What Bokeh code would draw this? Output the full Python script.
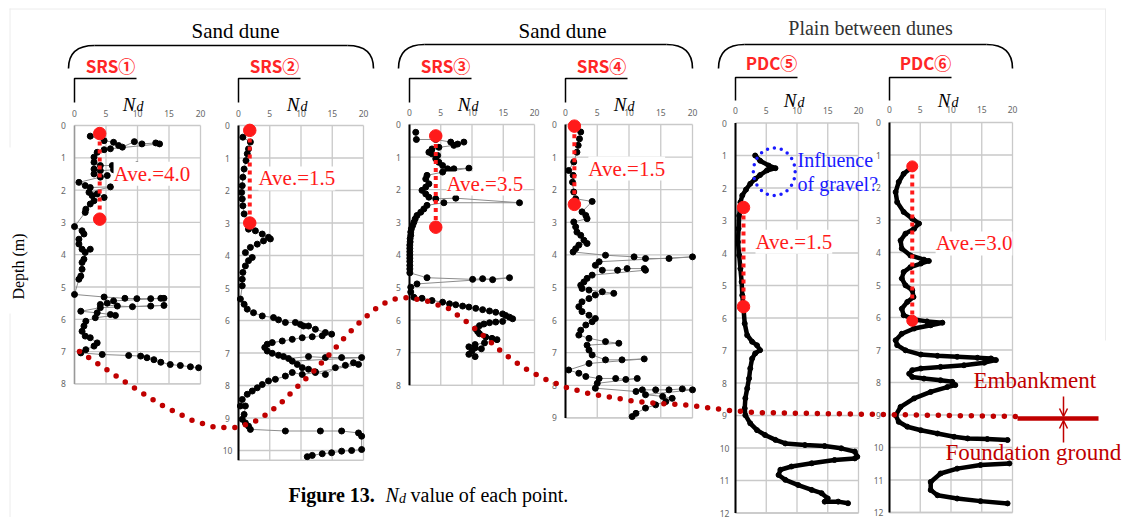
import math
from bokeh.plotting import figure
from bokeh.models import Range1d, Label, Arrow, OpenHead
from bokeh.core.properties import value
from bokeh.embed import file_html
from bokeh.resources import INLINE

# ---------------- data (Nd, depth m) ----------------
panel_names = ["SRS①", "SRS②", "SRS③", "SRS④", "PDC⑤", "PDC⑥"]
depth_tick_max = [8, 10, 8, 9, 12, 12]
nd_ticks = [0, 5, 10, 15, 20]

srs1 = [(2.5,0.33),(4.7,0.47),(6.2,0.52),(7.0,0.62),(7.6,0.67),(9.5,0.50),(10.7,0.57),(12.9,0.54),(13.5,0.57),
        (5.7,0.72),(4.7,0.75),(3.6,0.83),(3.1,0.98),(3.1,1.14),(4.1,1.24),(6.0,1.24),(9.9,1.22),(13.7,1.24),(17.1,1.24),
        (14.7,1.29),(10.5,1.32),(6.2,1.37),(4.1,1.40),(3.1,1.35),(3.1,1.50),(5.2,1.55),(4.1,1.60),(0.7,1.76),(1.7,1.86),
        (2.5,1.92),(5.7,1.90),(2.3,2.07),(2.8,2.17),(3.6,2.12),(4.7,2.23),(3.1,2.33),(2.5,2.43),(1.8,2.59),(1.7,2.69),
        (0.0,3.13),(1.2,3.26),(1.5,3.36),(0.7,3.52),(0.7,3.67),(1.2,3.83),(2.5,3.83),(1.7,3.93),(1.5,4.14),(1.2,4.24),
        (1.2,4.45),(1.0,4.66),(0.7,4.76),(0.0,5.23),(4.7,5.31),(8.0,5.35),(9.9,5.36),(12.1,5.36),(13.7,5.35),(14.2,5.35),
        (6.2,5.43),(5.2,5.50),(4.1,5.54),(6.8,5.59),(9.2,5.61),(12.1,5.59),(14.2,5.57),(4.1,5.64),(1.0,5.75),(3.6,5.80),
        (5.7,5.85),(6.5,5.88),(3.3,5.95),(1.8,6.06),(1.5,6.21),(1.2,6.37),(1.7,6.52),(2.5,6.57),(3.6,6.73),(3.1,6.83),
        (1.8,6.94),(1.0,7.04),(4.4,7.09),(8.6,7.12),(10.5,7.14),(11.5,7.19),(12.6,7.25),(13.7,7.33),(15.2,7.40),
        (16.8,7.43),(18.4,7.47),(19.7,7.50)]

srs2 = [(0.7,0.36),(1.9,0.51),(1.6,0.72),(1.4,0.87),(1.2,1.08),(0.9,1.34),(0.7,1.59),(0.6,1.85),(0.5,2.06),(0.6,2.26),
        (0.7,2.47),(0.9,2.72),(1.6,3.19),(2.7,3.24),(3.8,3.34),(4.8,3.44),(5.1,3.49),(4.0,3.55),(3.0,3.65),(1.9,3.75),
        (1.1,3.91),(2.2,4.06),(1.6,4.16),(1.1,4.32),(0.7,4.52),(0.6,4.73),(0.6,4.93),(0.3,5.34),(0.9,5.50),(1.4,5.65),
        (2.4,5.76),(3.8,5.86),(5.6,5.91),(6.4,5.98),(7.5,6.06),(9.1,6.06),(9.9,6.12),(10.4,6.17),(11.2,6.17),(12.3,6.27),
        (13.9,6.37),(14.9,6.42),(13.4,6.47),(11.8,6.50),(10.2,6.53),(8.6,6.58),(7.0,6.63),(5.4,6.68),(4.6,6.73),(4.2,6.83),
        (4.6,6.94),(5.4,7.01),(6.4,7.07),(7.2,7.11),(8.0,7.17),(11.2,7.11),(13.9,7.14),(16.5,7.14),(19.7,7.14),(8.6,7.25),
        (9.4,7.35),(10.2,7.45),(11.2,7.50),(12.3,7.58),(13.9,7.66),(15.5,7.45),(17.1,7.38),(18.4,7.30),(19.2,7.35),
        (12.3,7.60),(10.2,7.66),(8.6,7.60),(7.5,7.71),(5.9,7.81),(4.8,7.86),(3.8,7.97),(3.0,8.07),(2.2,8.17),(1.4,8.27),
        (0.6,8.43),(0.3,8.63),(1.1,8.63),(0.9,8.89),(0.6,9.04),(1.1,9.15),(1.6,9.25),(1.9,9.35),(7.5,9.40),(13.1,9.40),
        (16.5,9.40),(19.2,9.46),(19.7,9.56),(19.7,9.97),(18.1,10.00),(16.5,10.02),(14.9,10.07),(13.4,10.10),(11.8,10.15),
        (11.0,10.19)]

srs3 = [(1.0,0.24),(1.1,0.46),(4.2,0.46),(6.6,0.54),(7.7,0.60),(8.7,0.54),(7.1,0.64),(4.7,0.70),(3.6,0.75),(3.1,0.85),
        (3.6,0.90),(4.5,0.95),(4.2,1.05),(4.7,1.16),(5.3,1.26),(6.1,1.36),(6.6,1.41),(7.1,1.36),(9.5,1.34),(5.3,1.46),
        (2.8,1.56),(2.6,1.67),(3.1,1.82),(2.6,1.92),(2.0,2.02),(2.6,2.13),(3.1,2.23),(4.2,2.28),(7.4,2.26),(17.6,2.40),
        (5.5,2.40),(2.8,2.48),(2.3,2.59),(1.8,2.69),(1.2,2.79),(0.9,2.90),(0.7,3.00),(0.5,3.10),(0.3,3.20),(0.2,3.30),
        (0.2,3.40),(0.1,3.50),(0.1,3.60),(0.05,3.70),(0.05,3.80),(0.05,3.90),(0.05,4.00),(0.05,4.10),(0.05,4.20),
        (0.05,4.32),(0.05,4.43),(0.05,4.55),(2.8,4.70),(10.1,4.75),(11.7,4.73),(13.3,4.76),(16.0,4.70),(1.2,4.89),
        (0.2,4.99),(0.2,5.14),(0.7,5.30),(2.0,5.33),(3.6,5.40),(5.3,5.45),(6.4,5.50),(7.4,5.53),(8.5,5.57),(9.5,5.60),
        (10.6,5.64),(11.7,5.68),(12.8,5.72),(13.8,5.76),(14.9,5.81),(15.4,5.86),(16.0,5.91),(16.5,5.96),(14.9,6.04),
        (13.8,6.06),(12.8,6.08),(11.9,6.12),(11.2,6.17),(10.6,6.27),(10.9,6.35),(11.2,6.42),(12.2,6.52),(13.2,6.56),
        (14.0,6.60),(12.0,6.70),(10.5,6.75),(9.5,6.82),(10.5,6.85),(11.5,6.88),(10.0,6.95),(9.5,7.05),(10.5,7.12)]

srs4 = [(2.4,0.23),(2.2,0.44),(2.0,0.64),(1.8,0.85),(1.3,1.15),(0.5,1.41),(1.2,1.56),(1.1,1.77),(1.3,2.07),(1.6,2.28),
        (4.2,2.36),(2.6,2.68),(3.2,2.79),(3.4,2.89),(1.3,2.99),(1.6,3.14),(1.8,3.30),(2.4,3.40),(2.9,3.55),(3.4,3.65),
        (2.1,3.70),(1.6,3.81),(1.2,3.91),(6.3,4.01),(10.8,4.06),(12.6,4.11),(16.3,4.11),(20.0,4.06),(5.3,4.21),(4.7,4.32),
        (5.8,4.47),(8.2,4.47),(9.7,4.42),(12.4,4.42),(12.6,4.47),(4.2,4.62),(3.4,4.72),(2.9,4.83),(2.4,4.93),(2.6,5.03),
        (3.7,5.08),(5.8,5.13),(7.6,5.18),(4.7,5.23),(3.7,5.34),(2.6,5.44),(2.1,5.59),(2.6,5.74),(3.7,5.85),(4.7,5.95),
        (4.2,6.05),(3.2,6.15),(2.4,6.31),(2.1,6.46),(3.7,6.56),(6.3,6.66),(8.4,6.71),(3.4,6.77),(3.7,6.92),(4.2,7.07),
        (6.3,7.22),(8.9,7.22),(12.4,7.19),(3.7,7.33),(0.5,7.53),(2.1,7.63),(3.2,7.73),(5.3,7.79),(7.9,7.79),(9.5,7.82),
        (11.3,7.79),(5.0,7.94),(4.7,8.09),(11.1,8.19),(12.1,8.14),(14.2,8.14),(16.3,8.14),(18.4,8.11),(20.0,8.14),
        (12.6,8.29),(15.3,8.34),(16.8,8.40),(15.8,8.50),(14.2,8.60),(12.6,8.70),(11.1,8.86),(10.5,8.96)]

pdc5 = [(3.2,1.00),(4.0,1.16),(5.4,1.31),(6.5,1.39),(5.1,1.46),(4.0,1.60),(3.2,1.72),(2.4,1.87),(1.7,2.05),(1.1,2.23),
        (0.8,2.44),(0.6,2.85),(0.5,3.25),(0.4,3.66),(0.6,4.07),(0.8,4.48),(1.0,4.89),(1.1,5.30),(1.3,5.71),(1.5,6.17),
        (1.9,6.53),(2.7,6.73),(3.5,6.84),(4.0,6.99),(3.2,7.09),(2.7,7.25),(2.4,7.55),(2.2,7.86),(1.9,8.17),(1.6,8.47),
        (1.5,8.78),(1.6,8.99),(2.4,9.24),(3.5,9.45),(4.8,9.60),(6.5,9.75),(8.1,9.86),(11.3,9.91),(14.5,9.94),(17.2,10.01),
        (19.4,10.11),(19.8,10.27),(19.4,10.32),(16.1,10.37),(12.4,10.47),(9.1,10.57),(7.3,10.67),(7.0,10.83),(8.1,10.98),
        (10.2,11.14),(12.4,11.29),(14.0,11.39),(15.0,11.55),(14.5,11.65),(16.7,11.65),(18.3,11.70)]

pdc6_upper = [(3.7,1.37),(2.3,1.58),(1.5,1.83),(1.0,2.14),(1.25,2.45),(2.3,2.75),(3.7,2.96),(4.8,3.11),(4.0,3.27),
              (2.6,3.42),(1.8,3.63),(2.0,3.88),(3.4,4.09),(5.6,4.22),(6.4,4.26),(5.1,4.34),(3.4,4.45),(2.3,4.60),
              (2.0,4.80),(2.6,5.01),(3.7,5.16),(3.9,5.37),(2.9,5.52),(2.0,5.73),(2.3,5.93),(4.0,6.06),(6.1,6.12),
              (8.6,6.16),(6.7,6.24),(4.0,6.34),(2.0,6.50),(1.0,6.70),(1.25,6.85),(2.6,7.01),(5.1,7.14),(7.8,7.18),
              (11.0,7.21),(14.3,7.24),(16.5,7.26),(17.3,7.31),(15.4,7.39),(12.1,7.47),(8.3,7.52),(5.1,7.57),(3.7,7.62),
              (3.2,7.73),(3.7,7.83),(5.6,7.88),(8.3,7.93),(10.2,7.98),(10.7,8.08),(9.4,8.14),(6.7,8.29),(4.0,8.49),
              (1.8,8.75),(1.0,9.01),(1.5,9.21),(2.9,9.36),(5.1,9.47),(7.8,9.57),(10.5,9.67),(12.7,9.72),(15.9,9.74),
              (19.2,9.77)]
pdc6_lower = [(19.5,10.49),(14.8,10.54),(11.0,10.65),(8.3,10.80),(6.7,11.06),(6.7,11.31),(7.8,11.47),(11.0,11.57),
              (14.8,11.65),(19.2,11.72)]

profiles = [[srs1], [srs2], [srs3], [srs4], [pdc5], [pdc6_upper, pdc6_lower]]

ave_nd = [4.0, 1.8, 4.2, 1.4, 1.3, 3.7]
ave_top = [0.25, 0.15, 0.35, 0.05, 2.6, 1.35]
ave_bottom = [2.9, 3.0, 3.15, 2.45, 5.65, 6.1]
ave_text = ["Ave.=4.0", "Ave.=1.5", "Ave.=3.5", "Ave.=1.5", "Ave.=1.5", "Ave.=3.0"]

# embankment / foundation boundary (schematic, page coordinates)
boundary_x = [79,100,130,160,192,215,238,259,279,296,313,329,345,362,379,392,403,425,448,467,485,503,523,543,
              566,588,612,635,658,682,705,730,753,1015]
boundary_y = [351,365,385,404,420,427,427,419,404,387,371,354,336,319,305,299,297,300,308,322,337,353,367,378,
              387,393,397,401,403,404,407,410,412,416]

# ---------------- layout ----------------
W, H = 1131, 517
X0, Y0 = 0, 0
p = figure(width=W, height=H, x_range=Range1d(X0, X0 + W), y_range=Range1d(Y0 + H, Y0),
           output_backend="svg", toolbar_location=None, min_border=0,
           x_axis_location=None, y_axis_location=None)
p.grid.visible = False
p.outline_line_color = None
p.background_fill_color = "white"

SERIF = value("Liberation Serif")
RED = "#ff1a1a"
DARKRED = "#c00000"

# faint frame of the original figure
p.line([9, 1105], [8.5, 8.5], line_color="#ececec", line_width=1)
p.line([1105, 1105], [8, 340], line_color="#ececec", line_width=1)
p.line([9.5, 9.5], [8, 147], line_color="#ececec", line_width=1)
p.line([9.5, 9.5], [313, 517], line_color="#ececec", line_width=1)

# panel geometry: left px, right px, top px (depth 0), px per metre, box bottom depth
geom = [(74, 200, 125, 32.3, 8), (238, 363, 125, 32.5, 10.3), (409, 534, 124, 32.6, 8),
        (565, 692, 124, 32.6, 9), (735, 858, 122.5, 32.5, 12), (889, 1012, 122, 32.5, 12)]
label_pos = [(6.2, 1.49), (3.2, 1.63), (5.9, 1.81), (3.6, 1.35), (3.25, 3.65), (7.5, 3.72)]

for i, (L, R, T, s, bb) in enumerate(geom):
    k = "P%d" % i
    sx = (R - L) / 20.0
    p.extra_x_ranges[k] = Range1d((X0 - L) / sx, (X0 + W - L) / sx)
    p.extra_y_ranges[k] = Range1d((Y0 + H - T) / s, (Y0 - T) / s)
    kw = dict(x_range_name=k, y_range_name=k)
    pdc = i >= 4

    dts = list(range(0, depth_tick_max[i] + 1))
    # grid and box
    p.segment(x0=nd_ticks, y0=[0] * 5, x1=nd_ticks, y1=[bb] * 5, line_color="#c9c9c9", line_width=1.3, **kw)
    p.segment(x0=[0] * len(dts), y0=dts, x1=[20] * len(dts), y1=dts, line_color="#c9c9c9", line_width=1.3, **kw)
    p.segment(x0=[0], y0=[bb], x1=[20], y1=[bb], line_color="#c9c9c9", line_width=1.3, **kw)
    p.line([0, 0], [0, bb], line_color="#999999" if i == 0 else "black", line_width=1.5 if i == 0 else 2, **kw)

    # tick labels
    ty = -(13 if pdc else 12) / s
    p.text(x=nd_ticks, y=[ty] * 5, text=[str(t) for t in nd_ticks], text_align="center", text_baseline="middle",
           text_font=value("Noto Sans"), text_font_size="8.5px", text_color="#666666", **kw)
    p.text(x=[-11 / sx] * len(dts), y=dts, text=[str(d) for d in dts], text_align="center", text_baseline="middle",
           text_font=value("Noto Sans"), text_font_size="8.5px", text_color="#666666", **kw)

    # profile data
    for seg in profiles[i]:
        nd = [a for a, b in seg]
        dp = [b for a, b in seg]
        if pdc:
            p.line(nd, dp, line_color="black", line_width=4.5, line_join="round", line_cap="round", **kw)
            p.scatter(nd, dp, size=5, color="black", **kw)
        else:
            p.line(nd, dp, line_color="#8c8c8c", line_width=1, **kw)
            p.scatter(nd, dp, size=6, color="black", **kw)

    # average markers
    a = ave_nd[i]
    p.line([a, a], [ave_top[i], ave_bottom[i]], line_color=RED, line_width=4, line_dash="4 4", **kw)
    p.scatter([a, a], [ave_top[i], ave_bottom[i]], size=12.5 if i < 5 else 11, color=RED, **kw)
    lx, ly = label_pos[i]
    p.add_layout(Label(x=lx, y=ly, text=ave_text[i], text_font="Liberation Serif", text_font_size="21px",
                       text_color=RED, text_baseline="middle", text_align="left",
                       background_fill_color="white", background_fill_alpha=1.0, **kw))

    # header: L-bracket, N_d, panel name
    top_y = 77 if pdc else 78
    bot_y = 100 if pdc else 102
    p.line([L, L, L + 62], [bot_y, top_y, top_y], line_color="black", line_width=1.5)
    nb = 100 if pdc else 104
    p.text(x=[L + 54.5], y=[nb], text=["N"], text_align="center", text_baseline="alphabetic",
           text_font=SERIF, text_font_style="italic", text_font_size="19px", text_color="black")
    p.text(x=[L + 62], y=[nb + 2], text=["d"], text_align="left", text_baseline="alphabetic",
           text_font=SERIF, text_font_style="italic", text_font_size="14px", text_color="black")
    p.text(x=[L + 36], y=[62 if pdc else 65], text=[panel_names[i]], text_align="center", text_baseline="middle",
           text_font=value("Noto Sans CJK JP"), text_font_style="bold", text_font_size="17px", text_color="#ff2626")

# braces and group titles
braces = [(68, 373, 45, 68), (398, 692, 44, 68), (718, 1012, 44, 68)]
group_titles = ["Sand dune", "Sand dune", "Plain between dunes"]
title_pos = [(235, 30), (562, 30), (870, 27)]
for (xl, xr, yt, yb), t, (tx, ty) in zip(braces, group_titles, title_pos):
    p.quadratic(x0=[xl, xr - 26], y0=[yb, yt], x1=[xl + 26, xr], y1=[yt, yb], cx=[xl, xr], cy=[yt, yt],
                line_color="black", line_width=1.6)
    p.segment(x0=[xl + 26], y0=[yt], x1=[xr - 26], y1=[yt], line_color="black", line_width=1.6)
    p.text(x=[tx], y=[ty], text=[t], text_align="center", text_baseline="middle", text_font=SERIF,
           text_font_size="21px" if t == "Sand dune" else "20px",
           text_color="black" if t == "Sand dune" else "#333333")

# boundary line between embankment and foundation ground
p.line(boundary_x, boundary_y, line_color=DARKRED, line_width=5.5, line_dash="0 11", line_cap="round")

# gravel annotation
p.ellipse(x=[6.3], y=[1.5], width=6.8, height=1.47, fill_color=None, line_color="#1a1aff", line_width=3.5,
          line_dash="0 7", line_cap="round", x_range_name="P4", y_range_name="P4")
p.text(x=[797, 797], y=[159, 183], text=["Influence", "of gravel?"], text_align="left", text_baseline="middle",
       text_font=SERIF, text_font_size="20px", text_color="#1a1aff")

# embankment / foundation legend
p.line([1017, 1098], [418, 418], line_color=DARKRED, line_width=4.5)
p.add_layout(Arrow(end=OpenHead(size=8, line_color=DARKRED, line_width=1.5), x_start=1063, y_start=396,
                   x_end=1063, y_end=416, line_color=DARKRED, line_width=1.5))
p.add_layout(Arrow(end=OpenHead(size=8, line_color=DARKRED, line_width=1.5), x_start=1063, y_start=442,
                   x_end=1063, y_end=420, line_color=DARKRED, line_width=1.5))
p.text(x=[973, 945], y=[380, 452], text=["Embankment", "Foundation ground"], text_align="left",
       text_baseline="middle", text_font=SERIF, text_font_size="23px", text_color=DARKRED)

# axis title
p.text(x=[18], y=[266], text=["Depth (m)"], angle=math.pi / 2, text_align="center", text_baseline="middle",
       text_font=SERIF, text_font_size="16px", text_color="black")

# caption
p.text(x=[288], y=[494], text=["Figure 13."], text_align="left", text_baseline="alphabetic", text_font=SERIF,
       text_font_style="bold", text_font_size="20px", text_color="black")
p.text(x=[385], y=[494], text=["N"], text_align="left", text_baseline="alphabetic", text_font=SERIF,
       text_font_style="italic", text_font_size="20px", text_color="black")
p.text(x=[398.5], y=[498], text=["d"], text_align="left", text_baseline="alphabetic", text_font=SERIF,
       text_font_style="italic", text_font_size="14px", text_color="black")
p.text(x=[410], y=[494], text=["value of each point."], text_align="left", text_baseline="alphabetic",
       text_font=SERIF, text_font_size="20px", text_color="black")

open("out.html", "w").write(file_html(p, INLINE))
